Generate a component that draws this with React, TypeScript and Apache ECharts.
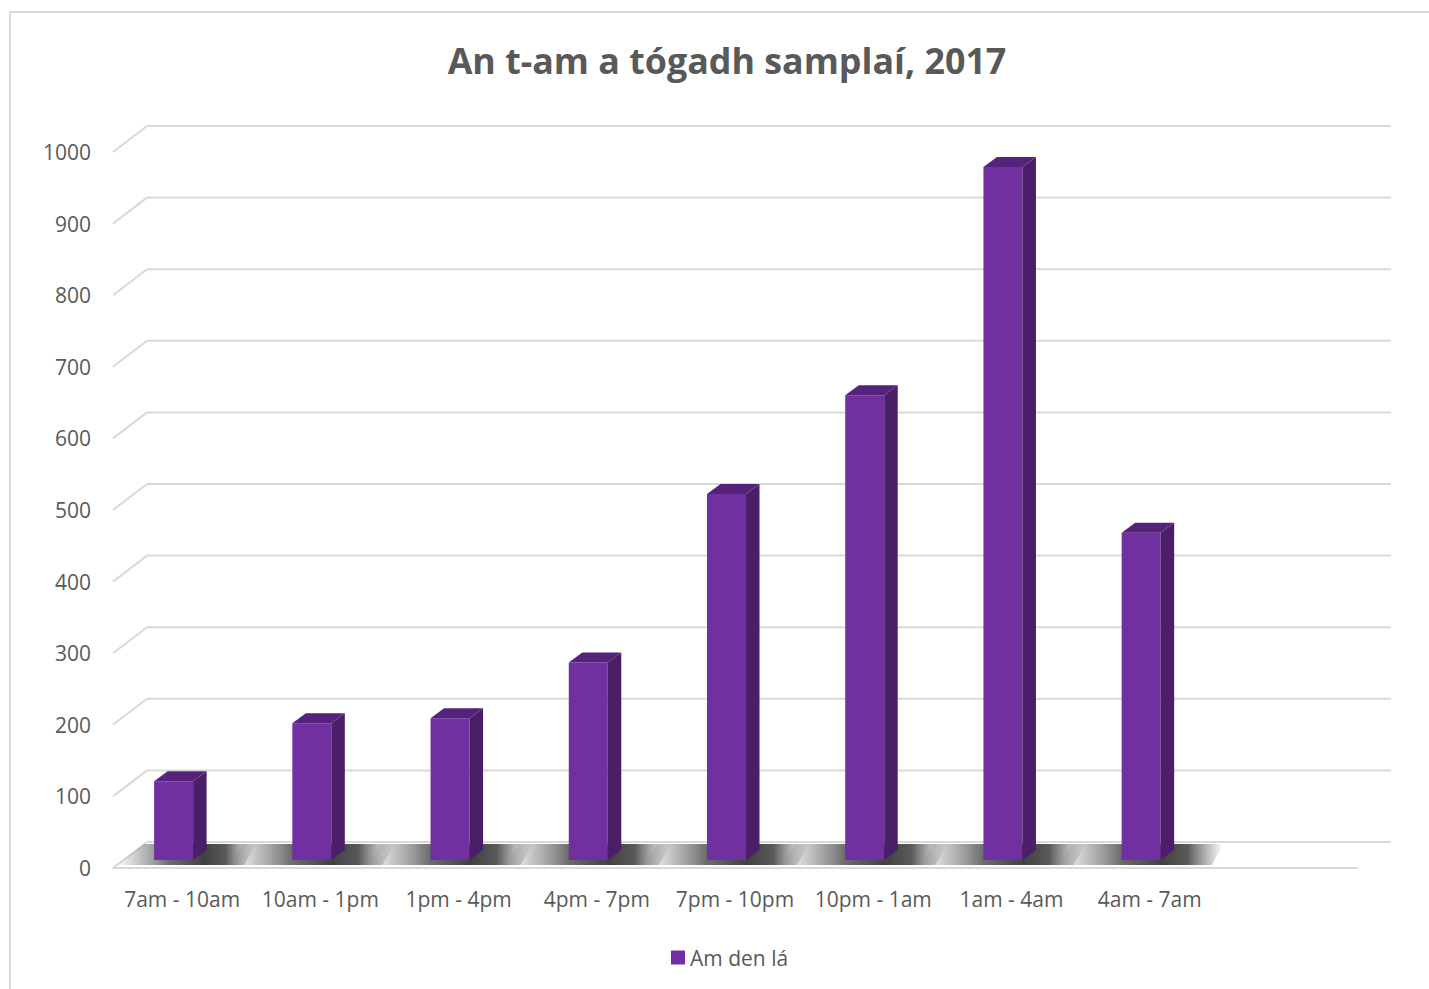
import React, { useEffect, useRef } from "react";
import * as echarts from "echarts";

const titleText = "An t-am a tógadh samplaí, 2017";
const seriesName = "Am den lá";
const categories = ["7am - 10am", "10am - 1pm", "1pm - 4pm", "4pm - 7pm", "7pm - 10pm", "10pm - 1am", "1am - 4am", "4am - 7am"];
const values = [110, 191, 198, 276, 511, 649, 968, 457];
const yTicks = [0, 100, 200, 300, 400, 500, 600, 700, 800, 900, 1000];

const FONT = "Open Sans";
const TEXT = "#595959";
const GRID = "#d9d9d9";
const DEPTH_X = 34;
const DEPTH_Y = -26;

export default function App() {
  const ref = useRef<HTMLDivElement>(null);
  useEffect(() => {
    if (!ref.current) return;
    const chart = echarts.init(ref.current, null, { renderer: "svg" });

    const gridRender = (params: any, api: any) => {
      const v = api.value(1);
      const cs = params.coordSys;
      const y = api.coord([0, v])[1];
      const x0 = cs.x;
      const w = cs.width;
      return {
        type: "group",
        children: [
          { type: "line", shape: { x1: x0, y1: y, x2: x0 + DEPTH_X, y2: y + DEPTH_Y }, style: { stroke: GRID, lineWidth: 2 } },
          { type: "line", shape: { x1: x0 + DEPTH_X, y1: y + DEPTH_Y, x2: x0 + DEPTH_X + w, y2: y + DEPTH_Y }, style: { stroke: GRID, lineWidth: 2 } },
        ],
      };
    };

    const shadowRender = (params: any, api: any) => {
      const i = api.value(0);
      const cx = api.coord([i, 0])[0];
      const yb = api.coord([i, 0])[1];
      const x0 = params.coordSys.x;
      const yF = yb - 3;
      const yB = yb - 24;
      const floorLeft = (yy: number) => x0 + ((yb - yy) * DEPTH_X) / -DEPTH_Y;
      const slant = 12;
      const fl = Math.max(cx - 90, floorLeft(yF));
      const bl = Math.max(cx - 90 + slant, floorLeft(yB));
      const points = [
        [fl, yF],
        [cx + 62, yF],
        [cx + 62 + slant, yB],
        [bl, yB],
      ];
      return {
        type: "polygon",
        shape: { points },
        style: {
          fill: new echarts.graphic.LinearGradient(0, 0, 1, 0, [
            { offset: 0, color: "rgba(90,90,90,0)" },
            { offset: 0.2, color: "rgba(90,90,90,0.45)" },
            { offset: 0.38, color: "rgba(70,70,70,0.8)" },
            { offset: 0.62, color: "rgba(55,55,55,0.95)" },
            { offset: 0.78, color: "rgba(60,60,60,0.85)" },
            { offset: 1, color: "rgba(90,90,90,0)" },
          ]),
        },
      };
    };

    const barRender = (params: any, api: any) => {
      const i = api.value(0);
      const v = api.value(1);
      const [cx, yTop0] = api.coord([i, v]);
      const yBase0 = api.coord([i, 0])[1];
      const lift = 8;
      const top = yTop0 - lift;
      const bottom = yBase0 - lift;
      const left = cx - 28;
      const right = cx + 11;
      const dx = 13.5;
      const dy = -10;
      return {
        type: "group",
        children: [
          { type: "rect", shape: { x: left, y: top, width: right - left, height: bottom - top }, style: { fill: "#7030A0" } },
          {
            type: "polygon",
            shape: { points: [[right, top], [right + dx, top + dy], [right + dx, bottom + dy], [right, bottom]] },
            style: { fill: "#4A1F68" },
          },
          {
            type: "polygon",
            shape: { points: [[left, top], [left + dx, top + dy], [right + dx, top + dy], [right, top]] },
            style: { fill: "#55237C" },
          },
        ],
      };
    };

    chart.setOption({
      animation: false,
      backgroundColor: "#ffffff",
      title: {
        text: titleText,
        left: 722,
        textAlign: "center",
        top: 37,
        textStyle: { fontFamily: FONT, fontSize: 35.8, fontWeight: "bold", color: TEXT },
      },
      legend: {
        data: [seriesName],
        left: 666,
        top: 942,
        icon: "rect",
        itemWidth: 14,
        itemHeight: 14,
        itemGap: 10,
        textStyle: { fontFamily: FONT, fontSize: 21, color: TEXT, padding: [0, 0, 0, 0] },
      },
      graphic: [
        {
          type: "rect",
          shape: { x: 10, y: 12, width: 1432, height: 992 },
          style: { fill: "none", stroke: GRID, lineWidth: 2 },
          z: -1,
        },
      ],
      grid: { left: 113, right: 72, top: 152, bottom: 121 },
      xAxis: {
        type: "category",
        data: [...categories, ""],
        boundaryGap: true,
        axisLine: { show: true, lineStyle: { color: GRID, width: 2 } },
        axisTick: { show: false },
        axisLabel: { fontFamily: FONT, fontSize: 21, color: TEXT, margin: 20, interval: 0 },
        splitLine: { show: false },
      },
      yAxis: {
        type: "value",
        min: 0,
        max: 1000,
        interval: 100,
        axisLine: { show: false },
        axisTick: { show: false },
        splitLine: { show: false },
        axisLabel: { fontFamily: FONT, fontSize: 21, color: TEXT, margin: 22, formatter: (v: number) => String(v) },
      },
      series: [
        {
          type: "custom",
          name: "grid-walls",
          renderItem: gridRender,
          data: yTicks.map((v) => [0, v]),
          silent: true,
          z: 1,
        },
        {
          type: "custom",
          name: "floor-shadows",
          renderItem: shadowRender,
          data: values.map((v, i) => [i, 0]),
          silent: true,
          z: 2,
        },
        {
          type: "custom",
          name: seriesName,
          renderItem: barRender,
          data: values.map((v, i) => [i, v]),
          itemStyle: { color: "#7030A0" },
          z: 3,
        },
      ],
    });
    return () => chart.dispose();
  }, []);
  return (
    <div
      ref={ref}
      style={{ position: "fixed", left: 0, top: 0, width: 1429, height: 989, background: "#fff" }}
    />
  );
}
